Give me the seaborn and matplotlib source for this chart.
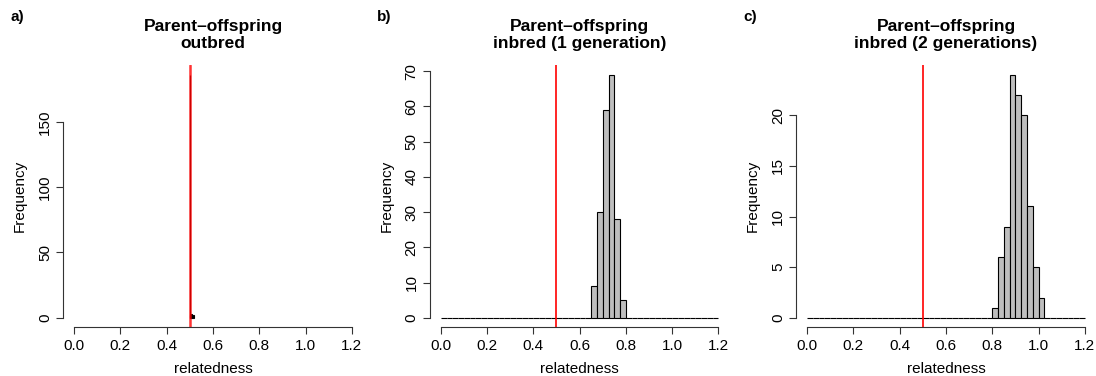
import numpy as np
import seaborn as sns
import matplotlib.pyplot as plt

# histogram counts (bin edges + counts)
a_edges = [0.49875, 0.50125, 0.50375, 0.50625, 0.50875, 0.51125, 0.51375, 0.51625]
a_counts = [186, 2, 3, 3, 2, 2, 2]

b_low = [0.65, 0.675, 0.70, 0.725, 0.75, 0.775]
b_counts = [9, 30, 59, 69, 28, 5]

c_low = [0.80, 0.825, 0.85, 0.875, 0.90, 0.925, 0.95, 0.975, 1.00]
c_counts = [1, 6, 9, 24, 22, 20, 11, 5, 2]

bin_width = 0.025
full_range = (0.0, 1.2)
expected = 0.5

titles = ["Parent\u2013offspring\noutbred",
          "Parent\u2013offspring\ninbred (1 generation)",
          "Parent\u2013offspring\ninbred (2 generations)"]
panel_tags = ["a)", "b)", "c)"]
yticks = [[0, 50, 100, 150], list(range(0, 71, 10)), list(range(0, 21, 5))]

sns.set_style("ticks")
plt.rcParams["font.family"] = ["Liberation Sans", "DejaVu Sans"]
for k in ("text.color", "axes.labelcolor", "xtick.color", "ytick.color", "axes.edgecolor"):
    plt.rcParams[k] = "black"

fig = plt.figure(figsize=(10.96, 3.76), dpi=100)
lefts = [0.0575, 0.392, 0.7263]
axes = [fig.add_axes([l, 0.129, 0.2737, 0.698]) for l in lefts]

full_edges = list(np.arange(full_range[0], full_range[1] + bin_width / 2, bin_width))

panels = [
    ([(lo + hi) / 2 for lo, hi in zip(a_edges[:-1], a_edges[1:])], a_counts, list(a_edges)),
    ([e + bin_width / 2 for e in b_low], b_counts, full_edges),
    ([e + bin_width / 2 for e in c_low], c_counts, full_edges),
]

for i, (ax, (mids, counts, edges)) in enumerate(zip(axes, panels)):
    sns.histplot(x=mids, weights=counts, bins=edges, ax=ax,
                 color="#BEBEBE", edgecolor="black", linewidth=0.8, alpha=1)
    if i == 0:
        # red line over the black bar -> darker core, lighter top
        ax.axvline(expected, color="red", lw=1.8, alpha=0.8)
    else:
        ax.axvline(expected, color="red", lw=1.2)
    m = max(counts)
    ax.set_xlim(-0.048, 1.248)
    ax.set_ylim(-0.04 * m, 1.04 * m)
    ax.set_xticks(np.arange(0, 1.21, 0.2))
    ax.set_xticklabels([f"{v:.1f}" for v in np.arange(0, 1.21, 0.2)])
    ax.set_yticks(yticks[i])
    ax.spines["top"].set_visible(False)
    ax.spines["right"].set_visible(False)
    ax.spines["bottom"].set_bounds(0, 1.2)
    ax.spines["left"].set_bounds(yticks[i][0], yticks[i][-1])
    for s in ("bottom", "left"):
        ax.spines[s].set_linewidth(0.8)
        ax.spines[s].set_color("#333333")
    ax.tick_params(direction="out", length=5, width=0.8, color="#333333",
                   labelsize=11, pad=3)
    for lab in ax.get_yticklabels():
        lab.set_rotation(90)
        lab.set_va("center")
    ax.set_xlabel("relatedness", fontsize=11, labelpad=7)
    ax.set_ylabel("Frequency", fontsize=11, labelpad=8)
    ax.set_title(titles[i], fontsize=12.5, fontweight="bold", pad=12, linespacing=1.2)
    fig.text(lefts[i] - 0.048, 0.955, panel_tags[i], fontsize=11,
             fontweight="bold", va="center")

plt.savefig("out.png", dpi=100)
